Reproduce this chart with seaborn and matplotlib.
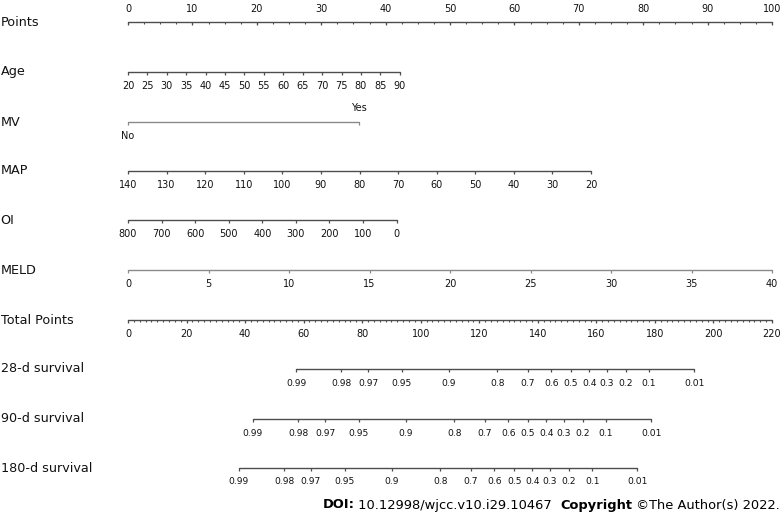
import numpy as np
import pandas as pd
import matplotlib
matplotlib.use("Agg")
import matplotlib.pyplot as plt
import seaborn as sns

# ---------------- data ----------------
points_ticks = list(range(0, 101, 10))
points_minor_step = 2.5

age_values = list(range(20, 91, 5))
age_points = (0.0, 42.2)          # points at age 20 and at age 90

mv_labels = ["No", "Yes"]
mv_points = [0.0, 35.8]

map_values = list(range(140, 19, -10))
map_points = (0.0, 71.9)          # points at MAP 140 and MAP 20

oi_values = list(range(800, -1, -100))
oi_points = (0.0, 41.7)           # points at OI 800 and OI 0

meld_values = list(range(0, 41, 5))
meld_points = (0.0, 100.0)        # points at MELD 0 and MELD 40

total_ticks = list(range(0, 221, 20))
total_minor_step = 2
total_max = 220

surv_ticks = [0.99, 0.98, 0.97, 0.95, 0.9, 0.8, 0.7, 0.6, 0.5, 0.4, 0.3, 0.2, 0.1, 0.01]
surv_28_range = (57.4, 193.4)     # total points at S=0.99 and S=0.01
surv_90_range = (42.7, 178.7)
surv_180_range = (37.8, 174.0)

row_names = ["Points", "Age", "MV", "MAP", "OI", "MELD", "Total Points",
             "28-d survival", "90-d survival", "180-d survival"]

# ---------------- layout ----------------
W, H = 784, 515
PX0, PXW = 128, 6.44   # pixel of 0 points, pixels per point
row_y = dict(zip(row_names, [22, 72, 122, 171, 220, 270, 320, 369, 419, 468]))

sns.set_theme(style="white")
plt.rcParams['font.family'] = ['DejaVu Sans']

fig = plt.figure(figsize=(W / 100, H / 100), dpi=100)
ax = fig.add_axes([0, 0, 1, 1])
ax.set_xlim(-PX0 / PXW, (W - PX0) / PXW)
ax.set_ylim(H, 0)
ax.axis("off")

LINE = "#4d4d4d"
LIGHT = "#8a8a8a"
TXT = "#111111"
TICK_FS = 7
SURV_FS = 6.6
LAB_FS = 9.2
TL = 3.0  # tick length in px


def lin(v, v0, v1, p0, p1):
    return p0 + (np.asarray(v, float) - v0) * (p1 - p0) / (v1 - v0)


def g(s):
    return np.log(-np.log(np.asarray(s, float)))


def surv_pos(s, rng):
    tp = rng[0] + (rng[1] - rng[0]) * (g(s) - g(0.99)) / (g(0.01) - g(0.99))
    return tp * 100.0 / total_max


scales = {}
scales["Points"] = (np.array(points_ticks, float), [str(v) for v in points_ticks])
scales["Age"] = (lin(age_values, 20, 90, *age_points), [str(v) for v in age_values])
scales["MV"] = (np.array(mv_points), mv_labels)
scales["MAP"] = (lin(map_values, 140, 20, *map_points), [str(v) for v in map_values])
scales["OI"] = (lin(oi_values, 800, 0, *oi_points), [str(v) for v in oi_values])
scales["MELD"] = (lin(meld_values, 0, 40, *meld_points), [str(v) for v in meld_values])
scales["Total Points"] = (np.array(total_ticks, float) * 100.0 / total_max,
                          [str(v) for v in total_ticks])
for name, rng in [("28-d survival", surv_28_range), ("90-d survival", surv_90_range),
                  ("180-d survival", surv_180_range)]:
    scales[name] = (surv_pos(surv_ticks, rng), [f"{v:g}" for v in surv_ticks])

# axis lines via seaborn
recs = []
for name in row_names:
    pos = scales[name][0]
    recs.append(dict(row=name, x=float(np.min(pos)), y=row_y[name]))
    recs.append(dict(row=name, x=float(np.max(pos)), y=row_y[name]))
df = pd.DataFrame(recs)
palette = {n: LINE for n in row_names}
palette["MV"] = LIGHT
palette["MELD"] = LIGHT
sns.lineplot(data=df, x="x", y="y", hue="row", units="row", estimator=None,
             palette=palette, legend=False, lw=1.0, ax=ax, sort=False)

# ticks and labels
for name in row_names:
    pos, labs = scales[name]
    y = row_y[name]
    col = palette[name]
    ax.vlines(pos, y, y + TL, color=col, lw=0.9)
    fs = SURV_FS if "survival" in name else TICK_FS
    if name == "Points":
        for p, l in zip(pos, labs):
            ax.text(p, y - 13, l, ha="center", va="center", fontsize=fs, color=TXT)
    elif name == "MV":
        ax.text(pos[0], y + 14, labs[0], ha="center", va="center", fontsize=fs, color=TXT)
        ax.text(pos[1], y - 14, labs[1], ha="center", va="center", fontsize=fs, color=TXT)
    else:
        for p, l in zip(pos, labs):
            ax.text(p, y + 14, l, ha="center", va="center", fontsize=fs, color=TXT)
    ax.text(-PX0 / PXW + 0.1, y, name, ha="left", va="center", fontsize=LAB_FS, color=TXT)

# minor ticks
pm = np.arange(0, 100 + 1e-9, points_minor_step)
ax.vlines(pm, row_y["Points"], row_y["Points"] + 2.2, color=LINE, lw=0.8)
tm = np.arange(0, total_max + 1e-9, total_minor_step) * 100.0 / total_max
ax.vlines(tm, row_y["Total Points"], row_y["Total Points"] + 2.2, color=LINE, lw=0.8)

# footer
parts = [("DOI:", "bold"), (" 10.12998/wjcc.v10.i29.10467  ", "normal"),
         ("Copyright", "bold"), (" \u00a9The Author(s) 2022.", "normal")]
fig.canvas.draw()
r = fig.canvas.get_renderer()
texts = []
for s, wgt in parts:
    t = fig.text(0, 1 - 505 / H, s, fontsize=9.4, fontweight=wgt, color="black",
                 ha="left", va="center")
    texts.append(t)
widths = [t.get_window_extent(r).width for t in texts]
x = 780 - sum(widths)
for t, w in zip(texts, widths):
    t.set_x(x / W)
    x += w

fig.savefig("out.png", dpi=100)
